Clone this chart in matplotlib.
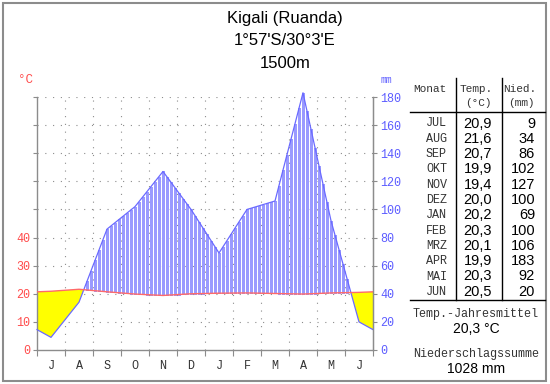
import numpy as np
import matplotlib
matplotlib.use("Agg")
import matplotlib.pyplot as plt
from matplotlib.patches import Rectangle
from matplotlib.lines import Line2D

# climate data, July -> June
axis_months = ["J", "A", "S", "O", "N", "D", "J", "F", "M", "A", "M", "J"]
table_months = ["JUL", "AUG", "SEP", "OKT", "NOV", "DEZ",
                "JAN", "FEB", "MRZ", "APR", "MAI", "JUN"]
temp = [20.9, 21.6, 20.7, 19.9, 19.4, 20.0, 20.2, 20.3, 20.1, 19.9, 20.3, 20.5]
prec = [9, 34, 86, 102, 127, 100, 69, 100, 106, 183, 92, 20]
temp_labels = ["0", "10", "20", "30", "40", "", "", "", "", ""]
prec_ticks = [0, 20, 40, 60, 80, 100, 120, 140, 160, 180]
title_lines = ["Kigali (Ruanda)", "1°57'S/30°3'E", "1500m"]
mean_temp = "20,3 °C"
total_prec = "1028 mm"

W, H = 550, 384
MONO = "Liberation Mono"
SANS = "Liberation Sans"
RED = "#ff4c4c"
BLUE = "#5c5cff"
GRAY = "#8c8c8c"
TXT = "#333333"


def fx(x):
    return x / W


def fy(y):
    return 1 - y / H


def fmt(v):
    return ("%.1f" % v).replace(".", ",")


fig = plt.figure(figsize=(W / 100, H / 100), dpi=100)
fig.patch.set_facecolor("white")

ax = fig.add_axes([fx(37), 1 - 350 / H, (373 - 37) / W, (350 - 97) / H])
ax.set_xlim(0, 12)
ax.set_ylim(0, 180)

# curves at month centres, closed at both edges with the Jun/Jul mean
x = np.concatenate([[0], np.arange(12) + 0.5, [12]])
t_edge = (temp[0] + temp[-1]) / 2
p_edge = (prec[0] + prec[-1]) / 2
t_mm = 2 * np.concatenate([[t_edge], temp, [t_edge]])
p_mm = np.concatenate([[p_edge], prec, [p_edge]])

# grid
for g in prec_ticks[1:]:
    ax.axhline(g, color=GRAY, lw=0.8, ls=(0, (1, 6)), zorder=0)
for m in range(1, 12):
    ax.axvline(m, color=GRAY, lw=0.8, ls=(0, (1, 6)), zorder=0)

# arid period
ax.fill_between(x, p_mm, t_mm, where=p_mm <= t_mm, interpolate=True,
                color="#ffff00", lw=0, zorder=1)

# humid period: vertical hatching
xs = np.arange(1 / 14, 12, 1 / 7)
lo = np.interp(xs, x, t_mm)
hi = np.interp(xs, x, p_mm)
wet = hi > lo
ax.vlines(xs[wet], lo[wet], hi[wet], color="#9a9aff", lw=1.0, zorder=1,
          clip_on=False, antialiased=False)

ax.plot(x, p_mm, color="#6a6aff", lw=0.9, zorder=3, clip_on=False)
ax.plot(x, t_mm, color="#ff6a6a", lw=1.0, zorder=3)

ax.spines["top"].set_visible(False)
for s in ["left", "right", "bottom"]:
    ax.spines[s].set_color(GRAY)
    ax.spines[s].set_linewidth(1.0)

ax.set_yticks(prec_ticks)
ax.set_yticklabels(temp_labels, fontfamily=MONO, fontsize=8.5, color=RED)
ax.tick_params(axis="y", which="major", length=3, color=GRAY, pad=2,
               left=True, right=False)

ax.set_xticks(range(13))
ax.set_xticklabels([])
ax.set_xticks(np.arange(12) + 0.5, minor=True)
ax.set_xticklabels(axis_months, minor=True, fontfamily=MONO, fontsize=8.5,
                   color=TXT)
ax.tick_params(axis="x", which="major", length=4, color=GRAY)
ax.tick_params(axis="x", which="minor", length=0, pad=7)

ax2 = ax.twinx()
ax2.set_ylim(0, 180)
ax2.set_yticks(prec_ticks)
ax2.set_yticklabels([str(v) for v in prec_ticks], fontfamily=MONO,
                    fontsize=8.5, color=BLUE)
ax2.tick_params(axis="y", length=3, color=GRAY, pad=2)
for s in ["top", "left", "bottom"]:
    ax2.spines[s].set_visible(False)
ax2.spines["right"].set_color(GRAY)

fig.text(fx(25), fy(80), "°C", fontfamily=MONO, fontsize=9, color=RED,
         ha="center", va="center")
fig.text(fx(386), fy(80), "mm", fontfamily=MONO, fontsize=7, color=BLUE,
         ha="center", va="center")

# title
for i, line in enumerate(title_lines):
    fig.text(fx(285), fy(18 + 22.5 * i), line, fontfamily=SANS, fontsize=12,
             ha="center", va="center", color="black")

# table
lines = [((410, 545), (112, 112)), ((410, 545), (300, 300)),
         ((456, 456), (78, 300)), ((502, 502), (78, 300))]
for (x0, x1), (y0, y1) in lines:
    fig.add_artist(Line2D([fx(x0), fx(x1)], [fy(y0), fy(y1)], color="black",
                          lw=1.0, transform=fig.transFigure))

header = [(430, 89, "Monat"), (476, 89, "Temp."), (478, 103, "(°C)"),
          (520, 89, "Nied."), (521, 103, "(mm)")]
for hx, hy, s in header:
    fig.text(fx(hx), fy(hy), s, fontfamily=MONO, fontsize=8,
             ha="center", va="center", color=TXT)

for i, (mon, t, p) in enumerate(zip(table_months, temp, prec)):
    y = 123.5 + 15.3 * i
    fig.text(fx(447), fy(y), mon, fontfamily=MONO, fontsize=8.5,
             ha="right", va="center", color=TXT)
    fig.text(fx(492), fy(y), fmt(t), fontfamily=SANS, fontsize=10.5,
             ha="right", va="center", color="black")
    fig.text(fx(535), fy(y), str(p), fontfamily=SANS, fontsize=10.5,
             ha="right", va="center", color="black")

fig.text(fx(476), fy(314), "Temp.-Jahresmittel", fontfamily=MONO,
         fontsize=8.5, ha="center", va="center", color=TXT)
fig.text(fx(476), fy(329), mean_temp, fontfamily=SANS, fontsize=10,
         ha="center", va="center", color="black")
fig.text(fx(476), fy(354), "Niederschlagssumme", fontfamily=MONO,
         fontsize=8.5, ha="center", va="center", color=TXT)
fig.text(fx(476), fy(369), total_prec, fontfamily=SANS, fontsize=10,
         ha="center", va="center", color="black")

# outer frame
fig.add_artist(Rectangle((fx(3), fy(381)), fx(543), (381 - 3) / H,
                         fill=False, edgecolor="#8c8c8c", lw=1.5,
                         transform=fig.transFigure))

fig.savefig("out.png", dpi=100)
